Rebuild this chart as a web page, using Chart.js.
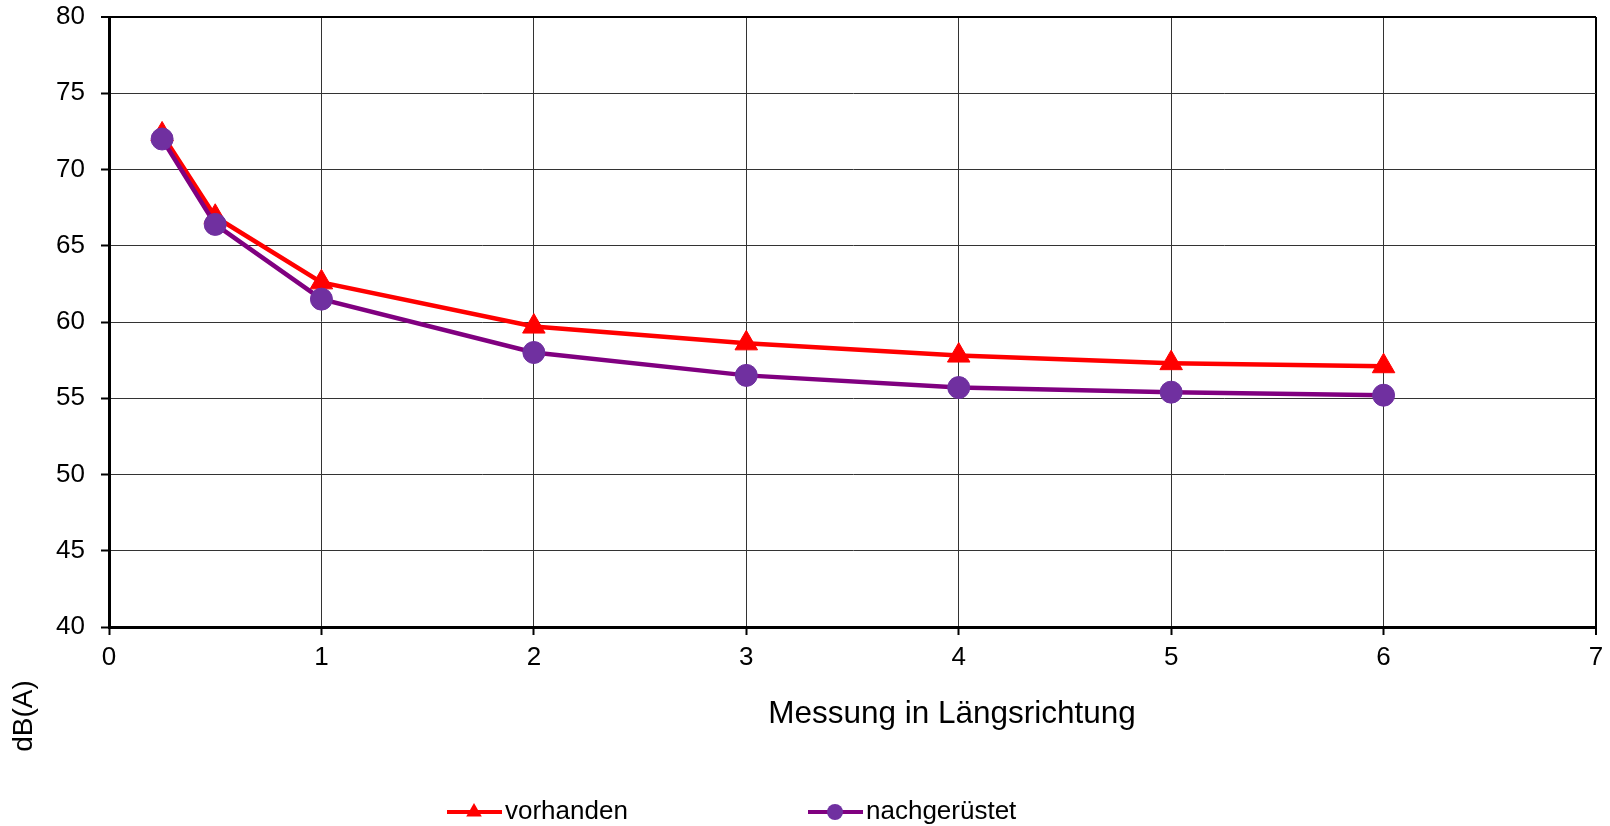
<!DOCTYPE html>
<html>
<head>
<meta charset="utf-8">
<title>Messung in Längsrichtung</title>
<script src="https://cdn.jsdelivr.net/npm/chart.js@4.4.0/dist/chart.umd.min.js"></script>
<style>
    html, body { margin: 0; padding: 0; background: #fff; }
    #wrap { width: 1610px; height: 826px; position: relative; }
</style>
</head>
<body>
<div id="wrap"><canvas id="lineChart"></canvas></div>
<script>
// Messpunkte (Abstand) und Pegel in dB(A)
const distances = [0.25, 0.5, 1, 2, 3, 4, 5, 6];
const vorhanden = [72.3, 66.9, 62.6, 59.7, 58.6, 57.8, 57.3, 57.1];
const nachgeruestet = [72.0, 66.4, 61.5, 58.0, 56.5, 55.7, 55.4, 55.2];
const seriesNames = ['vorhanden', 'nachgerüstet'];

// Achsen
const xTicks = [0, 1, 2, 3, 4, 5, 6, 7];
const yTicks = [40, 45, 50, 55, 60, 65, 70, 75, 80];
const xTitle = 'Messung in Längsrichtung';
const yTitle = 'dB(A)';

const FONT = "'Liberation Sans', Arial, sans-serif";
const xMax = xTicks[xTicks.length - 1];
const yMax = yTicks[yTicks.length - 1];

// Legende und Achsentitel selbst zeichnen (Excel-Layout)
const legendX = [447, 808];
const legendY = 812;

const extraTextPlugin = {
    id: 'extraText',
    afterDraw(chart) {
        const ctx = chart.ctx;
        ctx.save();

        // x axis title
        ctx.fillStyle = '#000';
        ctx.font = '31.5px ' + FONT;
        ctx.textAlign = 'center';
        ctx.textBaseline = 'middle';
        ctx.fillText(xTitle, 952, 714);

        // y axis title, rotated
        ctx.save();
        ctx.translate(24, 716);
        ctx.rotate(-Math.PI / 2);
        ctx.font = '28px ' + FONT;
        ctx.fillText(yTitle, 0, 0);
        ctx.restore();

        // legend: line + marker + text
        chart.data.datasets.forEach((ds, i) => {
            const x0 = legendX[i];
            ctx.strokeStyle = ds.borderColor;
            ctx.lineWidth = 4;
            ctx.beginPath();
            ctx.moveTo(x0, legendY);
            ctx.lineTo(x0 + 55, legendY);
            ctx.stroke();

            ctx.fillStyle = ds.pointBackgroundColor;
            Chart.helpers.drawPoint(ctx, {
                pointStyle: ds.pointStyle,
                radius: ds.pointStyle === 'triangle' ? 9 : 8,
                rotation: 0,
                borderWidth: 0
            }, x0 + 27, legendY);

            ctx.fillStyle = '#000';
            ctx.font = '26px ' + FONT;
            ctx.textAlign = 'left';
            ctx.textBaseline = 'middle';
            ctx.fillText(ds.label, x0 + 58, legendY);
        });
        ctx.restore();
    }
};

function toPoints(values) {
    return distances.map((d, i) => ({ x: d, y: values[i] }));
}

const plotData = {
    datasets: [{
        label: seriesNames[0],
        data: toPoints(vorhanden),
        borderColor: '#FF0000',
        backgroundColor: '#FF0000',
        borderWidth: 4.5,
        pointStyle: 'triangle',
        pointRadius: 13,
        pointBackgroundColor: '#FF0000',
        pointBorderColor: '#FF0000',
        pointBorderWidth: 1,
        tension: 0,
        order: 2
    }, {
        label: seriesNames[1],
        data: toPoints(nachgeruestet),
        borderColor: '#800080',
        backgroundColor: '#7030A0',
        borderWidth: 4.5,
        pointStyle: 'circle',
        pointRadius: 11,
        pointBackgroundColor: '#7030A0',
        pointBorderColor: '#7030A0',
        pointBorderWidth: 1,
        tension: 0,
        order: 1
    }]
};

const plotConfig = {
    type: 'line',
    data: plotData,
    plugins: [extraTextPlugin],
    options: {
        responsive: true,
        maintainAspectRatio: false,
        animation: false,
        layout: { padding: { top: 17, right: 7, left: 0, bottom: 0 } },
        plugins: {
            legend: { display: false },
            tooltip: { enabled: false }
        },
        scales: {
            x: {
                type: 'linear',
                min: xTicks[0],
                max: xMax,
                afterFit: scale => {
                    scale.height = 199;
                    scale.paddingLeft = 0;
                    scale.paddingRight = 0;
                },
                ticks: {
                    stepSize: xTicks[1] - xTicks[0],
                    color: '#000',
                    font: { family: FONT, size: 26 },
                    padding: 7,
                    maxRotation: 0
                },
                grid: {
                    color: c => (c.tick && c.tick.value === xMax) ? '#000' : '#333',
                    lineWidth: c => (c.tick && c.tick.value === xMax) ? 2 : 1,
                    tickLength: 8,
                    tickWidth: 2,
                    tickColor: '#000'
                },
                border: { display: true, color: '#000', width: 3 }
            },
            y: {
                min: yTicks[0],
                max: yMax,
                afterFit: scale => {
                    scale.width = 109;
                    scale.paddingTop = 0;
                    scale.paddingBottom = 0;
                },
                ticks: {
                    stepSize: yTicks[1] - yTicks[0],
                    color: '#000',
                    font: { family: FONT, size: 26 },
                    padding: 16
                },
                grid: {
                    color: c => (c.tick && c.tick.value === yMax) ? '#000' : '#333',
                    lineWidth: c => (c.tick && c.tick.value === yMax) ? 2 : 1,
                    tickLength: 8,
                    tickWidth: 2,
                    tickColor: '#000'
                },
                border: { display: true, color: '#000', width: 3 }
            }
        }
    }
};

window.chart = new Chart(document.getElementById('lineChart'), plotConfig);
</script>
</body>
</html>
